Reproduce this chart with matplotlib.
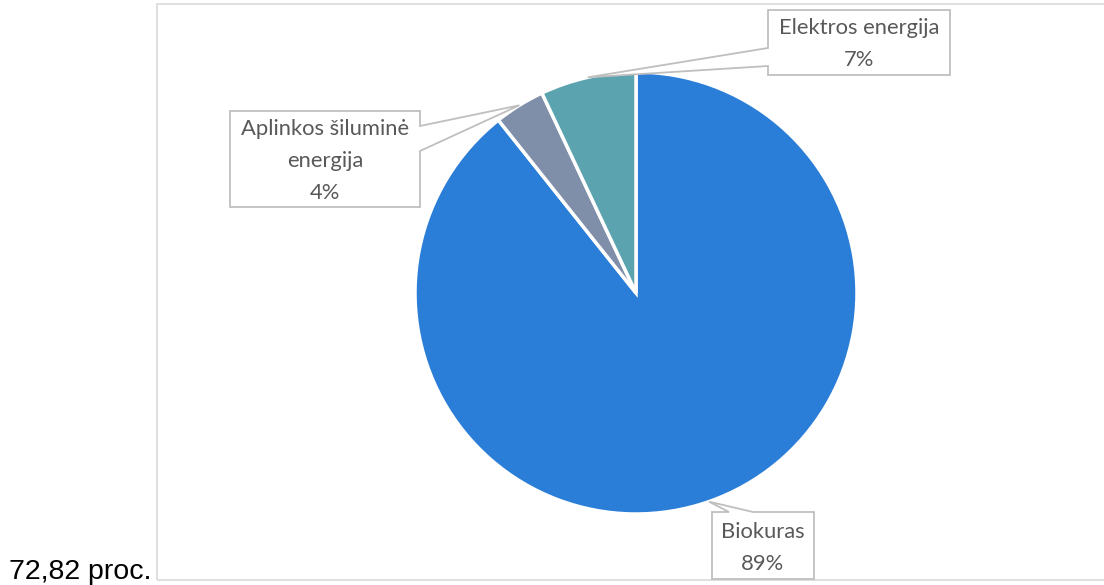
import numpy as np
import matplotlib.pyplot as plt
from matplotlib.patches import Polygon, Rectangle

# energy sources (share, %)
sources = ['Biokuras', 'Aplinkos šiluminė\nenergija', 'Elektros energija']
shares = [89.3, 3.7, 7.0]
share_labels = ['89%', '4%', '7%']
colors = ['#2B7ED7', '#7F8EA9', '#5BA3AE']

W, H = 1104, 585
fig = plt.figure(figsize=(W / 100, H / 100), dpi=100)
ax = fig.add_axes([0, 0, 1, 1])

# chart frame
ax.add_patch(Rectangle((157, 5), W, H - 9, fill=False, edgecolor='#D9D9D9', lw=1.2))

cx, cy, R = 636, 292, 221
wedges, _ = ax.pie(shares, colors=colors, startangle=90, counterclock=False,
                   center=(cx, cy), radius=R, frame=True,
                   wedgeprops=dict(edgecolor='white', linewidth=2.5))
ax.set_xlim(0, W)
ax.set_ylim(0, H)
ax.axis('off')

# callout boxes: (x0, y0, x1, y1) in image rows, and the two pointer base points
boxes = [
    ((712, 512, 814, 579), [(753, 512), (729, 512)]),
    ((230, 111, 420, 207), [(420, 126), (420, 151)]),
    ((768, 10, 950, 75), [(768, 66), (768, 48)]),
]

def flip(p):
    return (p[0], H - p[1])

for w, name, pct, (box, base) in zip(wedges, sources, share_labels, boxes):
    mid = np.deg2rad((w.theta1 + w.theta2) / 2)
    tip = (cx + R * np.cos(mid), cy + R * np.sin(mid))
    x0, y0, x1, y1 = box
    # pointer goes into whichever edge its base points sit on
    if base[0][1] == y0 and base[1][1] == y0:
        pts = [(x0, y0), base[1], None, base[0], (x1, y0), (x1, y1), (x0, y1)]
    elif base[0][0] == x1:
        pts = [(x0, y0), (x1, y0), base[0], None, base[1], (x1, y1), (x0, y1)]
    else:
        pts = [(x0, y0), (x1, y0), (x1, y1), (x0, y1), base[0], None, base[1]]
    verts = [tip if p is None else flip(p) for p in pts]
    ax.add_patch(Polygon(verts, closed=True, facecolor='white',
                         edgecolor='#BFBFBF', lw=1.3, zorder=5))
    ax.text((x0 + x1) / 2, H - (y0 + y1) / 2 - 2, name + '\n' + pct,
            ha='center', va='center', fontsize=15.8, family='Lato',
            color='#595959', linespacing=1.75, zorder=6)

ax.text(9, H - 579, '72,82 proc.', ha='left', va='baseline',
        fontsize=20.5, family='Liberation Sans', color='black')

fig.savefig('out.png', dpi=100)
